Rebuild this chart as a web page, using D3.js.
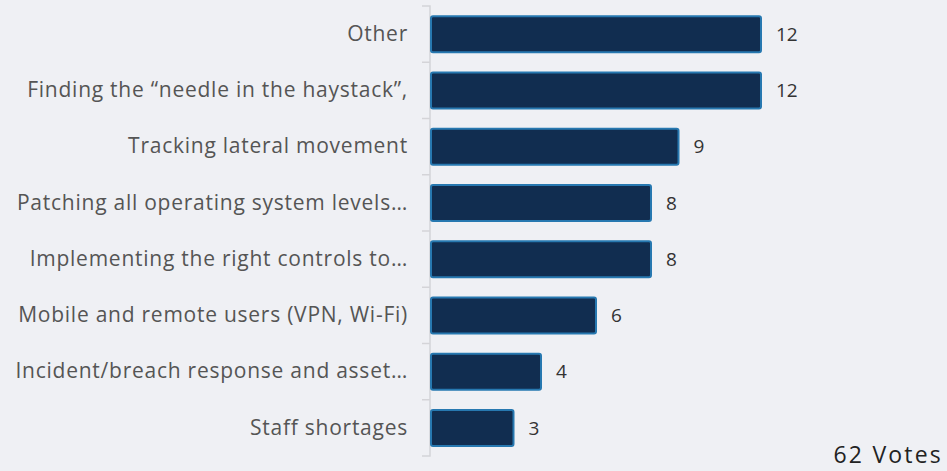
<!DOCTYPE html>
<html>
<head>
<meta charset="utf-8">
<script src="https://cdn.jsdelivr.net/npm/d3@7"></script>
<style>
  html, body { margin: 0; padding: 0; background: #eff0f4; }
  svg { display: block; }
  svg text { font-family: "Open Sans", "Noto Sans", sans-serif; }
  .axis path, .axis line { stroke: #d4d4d8; stroke-width: 1.5; }
</style>
</head>
<body>
<svg id="chart" width="947" height="471"></svg>
<script>
// answers, top to bottom
var categories = [
  'Other',
  'Finding the \u201cneedle in the haystack\u201d,',
  'Tracking lateral movement',
  'Patching all operating system levels\u2026',
  'Implementing the right controls to\u2026',
  'Mobile and remote users (VPN, Wi-Fi)',
  'Incident/breach response and asset\u2026',
  'Staff shortages'
];
var votes = [12, 12, 9, 8, 8, 6, 4, 3];
var totalLabel = '62 Votes';

var width = 947, height = 471;
var margin = { top: 6, left: 431, bottom: 15 };

var svg = d3.select('#chart');

var x = d3.scaleLinear()
  .domain([0, 12])
  .range([margin.left, 761]);

var y = d3.scaleBand()
  .domain(categories)
  .range([margin.top, height - margin.bottom])
  .paddingInner(0.36)
  .paddingOuter(0.18);

var yAxis = d3.axisLeft(y)
  .tickSize(0)
  .tickPadding(22);

var axisG = svg.append('g')
  .attr('class', 'axis')
  .attr('transform', 'translate(' + (margin.left - 1) + ',0)')
  .call(yAxis)
  .attr('font-family', null);

axisG.select('.domain')
  .attr('d', 'M-8,' + margin.top + 'H0V' + (height - margin.bottom) + 'H-8');

// small separators between the bands
var step = y.step();
axisG.selectAll('.sep')
  .data(categories.slice(1))
  .enter()
  .append('line')
  .attr('class', 'sep')
  .attr('x1', -8).attr('x2', 0)
  .attr('y1', d => y(d) - step * 0.18)
  .attr('y2', d => y(d) - step * 0.18);

axisG.selectAll('.tick text')
  .attr('fill', '#555')
  .style('font-size', '21px')
  .style('letter-spacing', '0.75px');

svg.selectAll('.bar')
  .data(categories)
  .enter()
  .append('rect')
  .attr('class', 'bar')
  .attr('x', x(0))
  .attr('y', d => y(d))
  .attr('width', (d, i) => x(votes[i]) - x(0))
  .attr('height', y.bandwidth())
  .attr('rx', 2)
  .attr('fill', '#112d50')
  .attr('stroke', '#2778b0')
  .attr('stroke-width', 2);

svg.selectAll('.val')
  .data(categories)
  .enter()
  .append('text')
  .attr('class', 'val')
  .attr('x', (d, i) => x(votes[i]) + 15)
  .attr('y', d => y(d) + y.bandwidth() / 2)
  .attr('dy', '0.35em')
  .attr('fill', '#333')
  .style('font-size', '19px')
  .style('font-weight', 500)
  .text((d, i) => votes[i]);

svg.append('text')
  .attr('x', 943)
  .attr('y', 463)
  .attr('text-anchor', 'end')
  .attr('fill', '#222')
  .style('font-size', '23px')
  .style('letter-spacing', '2.2px')
  .text(totalLabel);
</script>
</body>
</html>
